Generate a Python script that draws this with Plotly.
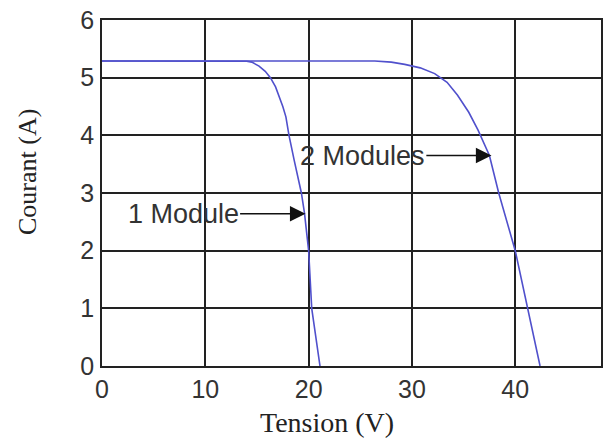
import plotly.graph_objects as go

# I-V curves
v_one = [0, 13.2, 14.0, 14.5, 15.2, 15.8, 16.3, 16.8, 17.1, 17.5, 17.8, 18.1, 18.6, 19.0, 19.3, 19.6, 20.0, 20.3, 20.7, 21.1]
i_one = [5.29, 5.29, 5.285, 5.27, 5.2, 5.11, 5.0, 4.84, 4.7, 4.5, 4.32, 4.0, 3.57, 3.25, 3.0, 2.65, 2.0, 1.0, 0.5, 0.0]

v_two = [0, 26.4, 28.0, 29.3, 30.8, 32.2, 33.4, 34.4, 35.5, 36.4, 37.5, 38.4, 40.0, 41.2, 42.4]
i_two = [5.29, 5.29, 5.27, 5.23, 5.17, 5.07, 4.92, 4.70, 4.40, 4.09, 3.65, 3.0, 2.0, 1.0, 0.0]

x_ticks = [0, 10, 20, 30, 40]
y_ticks = [0, 1, 2, 3, 4, 5, 6]

line_col = "#5050cc"
ink = "#222222"

fig = go.Figure()
fig.add_trace(go.Scatter(x=v_one, y=i_one, mode="lines", name="1 Module",
                         line=dict(color=line_col, width=1.6)))
fig.add_trace(go.Scatter(x=v_two, y=i_two, mode="lines", name="2 Modules",
                         line=dict(color=line_col, width=1.6)))

axis_common = dict(showline=True, mirror=True, linecolor=ink, linewidth=1.5,
                   showgrid=True, gridcolor=ink, gridwidth=1.5, zeroline=False,
                   ticks="", tickfont=dict(family="Liberation Sans, Arial", size=25, color="#333333"))

fig.update_xaxes(range=[0, 48.3], tickvals=x_ticks, **axis_common)
fig.update_yaxes(range=[0, 6], tickvals=y_ticks, ticklabelstandoff=1, **axis_common)

fig.add_annotation(x=19.7, y=2.64, ax=7.85, ay=2.64, axref="x", ayref="y",
                   text="1 Module", showarrow=True, arrowhead=2, arrowsize=2.4,
                   arrowwidth=1.3, arrowcolor="#111111", standoff=0,
                   font=dict(family="Liberation Sans, Arial", size=27, color="#333333"))
fig.add_annotation(x=37.7, y=3.65, ax=25.2, ay=3.65, axref="x", ayref="y",
                   text="2 Modules", showarrow=True, arrowhead=2, arrowsize=2.4,
                   arrowwidth=1.3, arrowcolor="#111111", standoff=0,
                   font=dict(family="Liberation Sans, Arial", size=27, color="#333333"))

fig.add_annotation(x=-0.148, y=0.561, xref="paper", yref="paper", text="Courant (A)",
                   showarrow=False, textangle=-90, xanchor="center", yanchor="middle",
                   font=dict(family="Liberation Serif, Times New Roman", size=26, color="#222222"))
fig.add_annotation(x=0.451, y=-0.162, xref="paper", yref="paper", text="Tension (V)",
                   showarrow=False, xanchor="center", yanchor="middle",
                   font=dict(family="Liberation Serif, Times New Roman", size=28, color="#222222"))

fig.update_layout(width=609, height=441, margin=dict(l=102, r=6, t=20, b=75),
                  paper_bgcolor="white", plot_bgcolor="white", showlegend=False)

fig.write_html("out.html")
